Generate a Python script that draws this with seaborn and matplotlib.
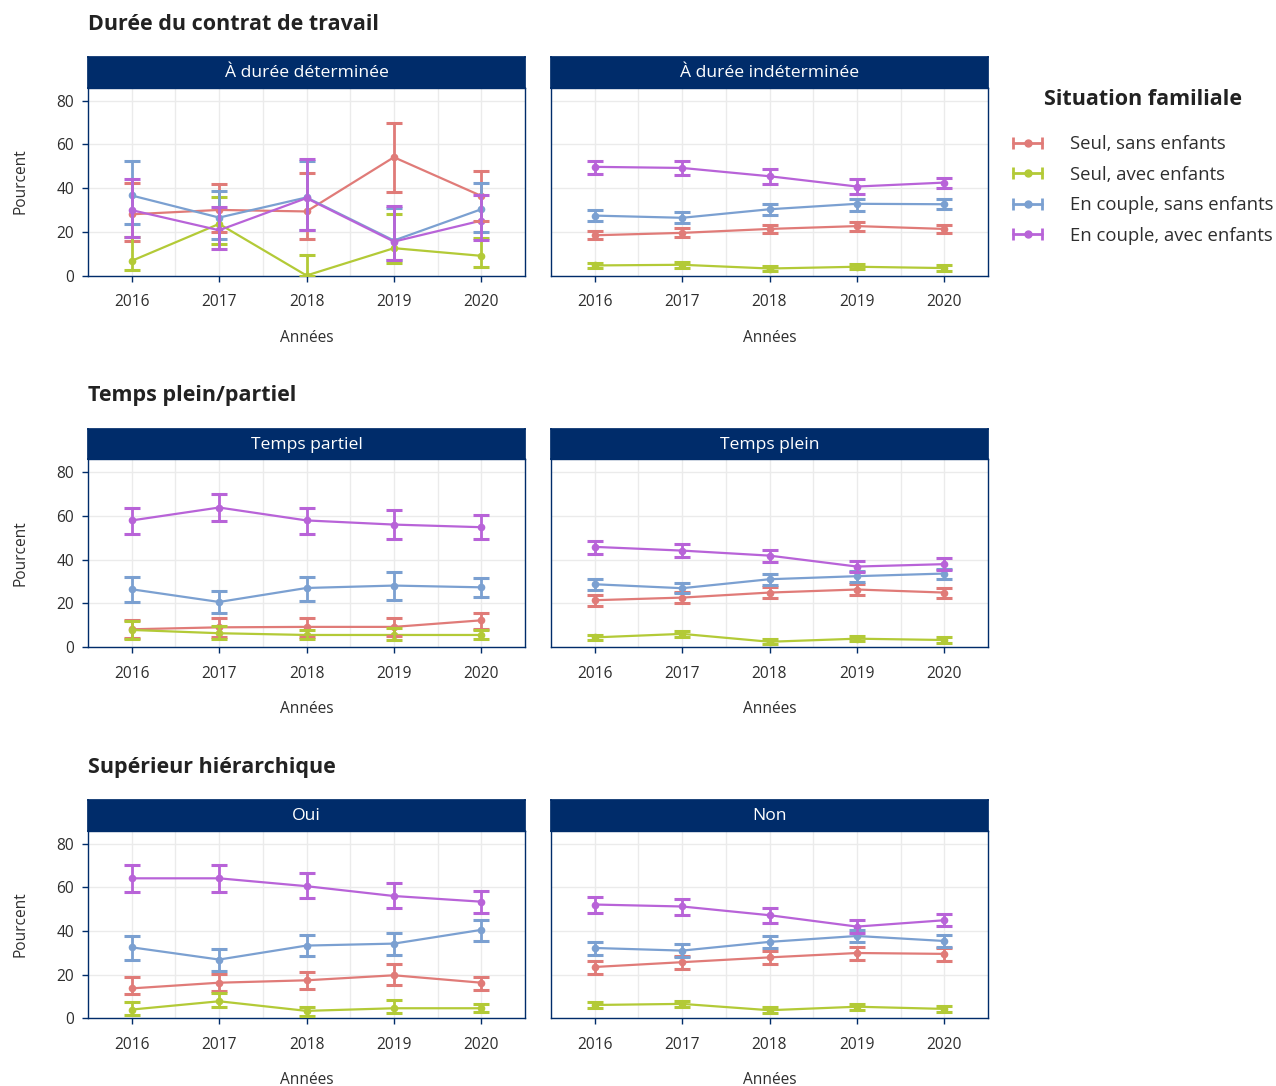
import numpy as np
import pandas as pd
import matplotlib
matplotlib.use("Agg")
import matplotlib.pyplot as plt
from matplotlib.lines import Line2D
from matplotlib.legend_handler import HandlerLine2D, HandlerTuple
import seaborn as sns

# ---------------------------------------------------------------- data
years = [2016, 2017, 2018, 2019, 2020]
groups = ["Seul, sans enfants", "Seul, avec enfants",
          "En couple, sans enfants", "En couple, avec enfants"]
colors = ["#E07B78", "#B3CA37", "#7BA0D1", "#B863D8"]

section_titles = ["Durée du contrat de travail", "Temps plein/partiel",
                  "Supérieur hiérarchique"]
panel_titles = [["À durée déterminée", "À durée indéterminée"],
                ["Temps partiel", "Temps plein"],
                ["Oui", "Non"]]

# rows follow the order of `groups`
determinee_est = [[28.0, 30.0, 29.3, 54.1, 36.4],
                  [6.7, 23.6, 0.0, 12.5, 9.0],
                  [36.6, 26.5, 35.7, 16.0, 30.3],
                  [29.9, 20.7, 35.4, 15.5, 25.1]]
determinee_lo = [[15.8, 20.0, 16.6, 38.4, 25.0],
                 [2.3, 14.3, 0.0, 5.9, 3.8],
                 [23.5, 16.8, 20.9, 7.0, 19.8],
                 [17.8, 12.0, 21.0, 6.9, 16.3]]
determinee_hi = [[42.2, 41.9, 47.1, 69.9, 48.0],
                 [17.8, 35.7, 9.4, 28.0, 17.1],
                 [52.4, 38.5, 52.4, 31.0, 42.2],
                 [44.2, 31.5, 53.2, 31.8, 37.0]]

indeterminee_est = [[18.4, 19.5, 21.3, 22.6, 21.3],
                    [4.6, 4.9, 3.2, 4.0, 3.4],
                    [27.4, 26.4, 30.3, 32.8, 32.6],
                    [49.7, 49.2, 45.4, 40.7, 42.5]]
indeterminee_lo = [[16.5, 17.4, 19.3, 20.5, 19.4],
                   [3.3, 3.6, 2.0, 2.8, 2.2],
                   [24.8, 23.8, 27.9, 29.7, 30.2],
                   [46.5, 46.2, 41.8, 37.3, 40.2]]
indeterminee_hi = [[20.4, 21.6, 23.3, 24.7, 23.2],
                   [5.9, 6.2, 4.4, 5.2, 4.6],
                   [29.9, 29.0, 32.6, 35.0, 35.0],
                   [52.4, 52.4, 48.8, 44.0, 44.8]]

partiel_est = [[8.1, 9.0, 9.2, 9.2, 12.2],
               [7.8, 6.3, 5.5, 5.5, 5.5],
               [26.4, 20.6, 27.0, 28.1, 27.3],
               [57.9, 63.8, 57.9, 56.0, 54.8]]
partiel_lo = [[4.0, 4.4, 4.7, 5.0, 8.1],
              [3.7, 3.5, 3.5, 3.2, 3.5],
              [20.8, 15.7, 21.2, 21.7, 22.9],
              [51.8, 57.7, 51.9, 49.6, 49.3]]
partiel_hi = [[12.2, 13.1, 13.3, 13.4, 15.4],
              [12.0, 9.5, 8.0, 8.5, 8.0],
              [32.1, 25.6, 32.2, 34.5, 31.6],
              [63.7, 69.8, 63.5, 62.6, 60.2]]

plein_est = [[21.4, 22.6, 24.9, 26.3, 24.9],
             [4.4, 6.0, 2.4, 3.8, 3.2],
             [28.7, 26.9, 31.0, 32.4, 33.6],
             [45.8, 44.1, 41.8, 36.8, 37.9]]
plein_lo = [[18.8, 20.2, 22.5, 23.8, 22.6],
            [3.2, 4.7, 1.3, 2.6, 2.0],
            [26.1, 24.6, 28.4, 29.9, 31.1],
            [42.4, 41.1, 38.9, 34.2, 35.4]]
plein_hi = [[24.0, 25.0, 27.3, 28.8, 27.2],
            [5.6, 7.3, 3.5, 5.0, 4.4],
            [31.1, 29.5, 33.4, 34.9, 35.9],
            [48.7, 47.2, 44.4, 39.4, 40.6]]

oui_est = [[13.7, 16.3, 17.4, 19.7, 16.3],
           [4.0, 7.8, 3.4, 4.6, 4.6],
           [32.5, 26.9, 33.3, 34.2, 40.5],
           [64.1, 64.1, 60.5, 56.0, 53.4]]
oui_lo = [[11.0, 12.4, 13.3, 15.4, 13.1],
          [1.5, 5.3, 1.2, 2.6, 2.7],
          [26.6, 21.7, 28.4, 28.9, 35.6],
          [57.9, 57.9, 55.3, 50.4, 48.4]]
oui_hi = [[18.9, 20.3, 21.1, 24.9, 18.8],
          [7.3, 11.5, 5.3, 8.4, 6.7],
          [37.6, 31.8, 38.0, 39.2, 45.2],
          [70.1, 70.1, 66.6, 62.0, 58.3]]

non_est = [[23.5, 25.7, 27.9, 29.9, 29.5],
           [6.1, 6.6, 3.7, 5.3, 4.3],
           [32.2, 31.0, 35.0, 37.7, 35.4],
           [52.1, 51.2, 47.2, 42.0, 44.9]]
non_lo = [[20.5, 22.6, 25.0, 26.6, 26.4],
          [4.7, 5.2, 2.4, 4.0, 3.1],
          [29.2, 28.2, 32.2, 35.0, 32.7],
          [48.4, 47.5, 43.7, 39.2, 42.1]]
non_hi = [[26.3, 28.5, 31.0, 32.8, 32.4],
          [7.5, 8.0, 5.0, 6.6, 5.5],
          [35.1, 33.9, 37.9, 40.3, 38.0],
          [55.6, 54.7, 50.5, 44.9, 47.8]]

panels = [[(determinee_est, determinee_lo, determinee_hi),
           (indeterminee_est, indeterminee_lo, indeterminee_hi)],
          [(partiel_est, partiel_lo, partiel_hi),
           (plein_est, plein_lo, plein_hi)],
          [(oui_est, oui_lo, oui_hi),
           (non_est, non_lo, non_hi)]]

# ---------------------------------------------------------------- style
sns.set_theme(style="whitegrid")
plt.rcParams["font.family"] = ["Open Sans", "DejaVu Sans"]
NAVY = "#002C6A"
TEXT = "#2E2E2E"
GRID = "#EBEBEB"

W, H = 1276, 1086
fig = plt.figure(figsize=(W / 100, H / 100), dpi=100)
fig.patch.set_facecolor("white")


def px_axes(x0, y0, x1, y1, **kw):
    return fig.add_axes([x0 / W, 1 - y1 / H, (x1 - x0) / W, (y1 - y0) / H], **kw)


col_x = [(88, 525), (551, 988)]
strip_top = [56.5, 428.5, 799.5]
plot_top = [87.5, 459, 830.5]
plot_bot = [275.5, 647, 1018.3]
section_y = [24, 396, 767]
palette = dict(zip(groups, colors))

for r in range(3):
    fig.text(88 / W, 1 - section_y[r] / H, section_titles[r], fontsize=15.5,
             fontweight="bold", color="#222222", ha="left", va="center")
    for c in range(2):
        est, lo, hi = panels[r][c]
        x0, x1 = col_x[c]
        ax = px_axes(x0, plot_top[r], x1, plot_bot[r])
        df = pd.DataFrame({
            "Année": np.tile(years, len(groups)),
            "Pourcent": np.concatenate(est),
            "Situation": np.repeat(groups, len(years)),
        })
        sns.lineplot(data=df, x="Année", y="Pourcent", hue="Situation",
                     hue_order=groups, palette=palette, marker="o",
                     markersize=5.5, markeredgewidth=0, linewidth=1.6,
                     legend=False, ax=ax, zorder=3)
        for g, col in enumerate(colors):
            e = np.array(est[g])
            yerr = np.vstack([e - np.array(lo[g]), np.array(hi[g]) - e])
            ax.errorbar(years, e, yerr=yerr, fmt="none", ecolor=col,
                        elinewidth=2.0, capsize=5.5, capthick=2.2, zorder=3)

        ax.set_xlim(2015.5, 2020.5)
        ax.set_ylim(0, 86)
        ax.set_xticks(years)
        ax.set_xticks([2016.5, 2017.5, 2018.5, 2019.5], minor=True)
        ax.set_yticks([0, 20, 40, 60, 80])
        ax.set_facecolor("white")
        ax.grid(True, which="major", color=GRID, linewidth=1.0)
        ax.grid(True, which="minor", axis="x", color=GRID, linewidth=1.0)
        ax.set_axisbelow(True)
        for sp in ax.spines.values():
            sp.set_visible(True)
            sp.set_color(NAVY)
            sp.set_linewidth(1.0)
        ax.tick_params(axis="x", which="major", length=4, width=1, color=NAVY,
                       labelsize=11.2, labelcolor=TEXT, pad=9.5, bottom=True)
        ax.tick_params(axis="x", which="minor", length=0)
        ax.set_xlabel("Années", fontsize=11.2, color=TEXT, labelpad=14)
        if c == 0:
            ax.tick_params(axis="y", length=4, width=1, color=NAVY,
                           labelsize=11.2, labelcolor=TEXT, pad=6, left=True)
            ax.set_ylabel("Pourcent", fontsize=11.2, color=TEXT, labelpad=20)
        else:
            ax.tick_params(axis="y", length=0, labelleft=False)
            ax.set_ylabel("")

        sax = px_axes(x0, strip_top[r], x1, plot_top[r])
        sax.set_facecolor(NAVY)
        sax.set_xticks([])
        sax.set_yticks([])
        for sp in sax.spines.values():
            sp.set_color(NAVY)
        sax.text(0.5, 0.47, panel_titles[r][c], transform=sax.transAxes,
                 ha="center", va="center", color="white", fontsize=12.6)

# ---------------------------------------------------------------- legend
handles = []
hmap = {tuple: HandlerTuple(ndivide=1, pad=0)}
for col in colors:
    caps = Line2D([], [], color=col, linewidth=2, marker="|", markersize=9,
                  markeredgewidth=2)
    dot = Line2D([], [], color=col, linestyle="none", marker="o",
                 markersize=5)
    hmap[caps] = HandlerLine2D(numpoints=2, marker_pad=0)
    hmap[dot] = HandlerLine2D(numpoints=1)
    handles.append((caps, dot))

leg = fig.legend(handles, groups, handler_map=hmap, title="Situation familiale",
                 loc="upper left", bbox_to_anchor=(1013 / W, 1 - 89 / H),
                 frameon=False, fontsize=13.3, title_fontsize=15.5,
                 handlelength=1.57, handletextpad=1.5, labelspacing=0.68,
                 borderaxespad=0, borderpad=0)
leg.get_title().set_fontweight("bold")
leg.get_title().set_color("#222222")
leg._legend_box.sep = 18
for t in leg.get_texts():
    t.set_color(TEXT)

fig.savefig("out.png", dpi=100, facecolor="white")
